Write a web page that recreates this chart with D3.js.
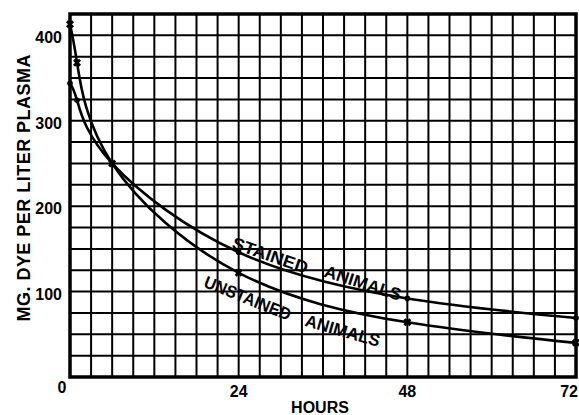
<!DOCTYPE html>
<html><head><meta charset="utf-8">
<script src="https://cdn.jsdelivr.net/npm/d3@7"></script>
<style>
html,body{margin:0;padding:0;background:#fff;overflow:hidden;}
text{font-family:"Liberation Sans","DejaVu Sans",sans-serif;font-weight:bold;fill:#000;}
</style></head>
<body><svg id="c" width="579" height="415"></svg>
<script>
// Data (hours, mg dye per liter plasma)
const hours = [0, 1, 6, 24, 48, 72];
const stained = [344, 324, 250, 146, 92, 69];
const unstained = [413, 368, 250, 122, 64, 40];
const xTicks = [0, 24, 48, 72];
const yTicks = [100, 200, 300, 400];
const xLabel = "HOURS";
const yLabel = "MG. DYE PER LITER PLASMA";
const curveLabels = [
  {text: "STAINED", h: 22.9, v: 151, angle: 19, len: 79},
  {text: "ANIMALS", h: 36.0, v: 118, angle: 18, len: 80},
  {text: "UNSTAINED", h: 18.9, v: 106, angle: 22, len: 92},
  {text: "ANIMALS", h: 33.3, v: 60, angle: 16, len: 77}
];

const svg = d3.select("#c");
const x = d3.scaleLinear().domain([0, 72]).range([70, 576]);
const y = d3.scaleLinear().domain([0, 425]).range([377, 14]);

// grid
const g = svg.append("g");
g.selectAll("line.v").data(d3.range(0, 73, 3)).join("line")
  .attr("x1", d => x(d)).attr("x2", d => x(d))
  .attr("y1", y(0)).attr("y2", y(425))
  .attr("stroke", "#000").attr("stroke-width", 2);
g.selectAll("line.h").data(d3.range(0, 426, 25)).join("line")
  .attr("y1", d => y(d)).attr("y2", d => y(d))
  .attr("x1", x(0)).attr("x2", x(72))
  .attr("stroke", "#000").attr("stroke-width", 2);
// border
g.append("rect").attr("x", x(0)).attr("y", y(425))
  .attr("width", x(72) - x(0)).attr("height", y(0) - y(425))
  .attr("fill", "none").attr("stroke", "#000").attr("stroke-width", 3.5);

// curves
const line = d3.line().x(d => x(d[0])).y(d => y(d[1])).curve(d3.curveNatural);
const sData = hours.map((h, i) => [h, stained[i]]);
const uData = hours.map((h, i) => [h, unstained[i]]);
[sData, uData].forEach(d => {
  svg.append("path").datum(d).attr("d", line)
    .attr("fill", "none").attr("stroke", "#000").attr("stroke-width", 2.6);
});
// markers
svg.selectAll("circle.s").data(sData).join("circle")
  .attr("cx", d => x(d[0])).attr("cy", d => y(d[1])).attr("r", 2.8).attr("fill", "#000");
const cross = d3.symbol().type(d3.symbolCross).size(40);
svg.selectAll("path.u").data(uData).join("path")
  .attr("d", cross)
  .attr("transform", d => `translate(${x(d[0])},${y(d[1])}) rotate(45)`)
  .attr("fill", "#000");

// tick labels
svg.selectAll("text.yt").data(yTicks).join("text")
  .attr("x", 62).attr("y", d => y(d) + 8)
  .attr("text-anchor", "end").attr("font-size", 16).text(d => d);
svg.selectAll("text.xt").data(xTicks).join("text")
  .attr("x", d => d === 0 ? x(d) - 8 : (d === 72 ? 578 : x(d)))
  .attr("y", d => d === 0 ? 393 : 397)
  .attr("text-anchor", d => d === 72 ? "end" : "middle")
  .attr("font-size", 16).text(d => d);

// axis titles
svg.append("text").attr("x", 320).attr("y", 413)
  .attr("text-anchor", "middle").attr("font-size", 16).text(xLabel);
svg.append("text").attr("transform", "translate(30,188) rotate(-90)")
  .attr("text-anchor", "middle").attr("font-size", 18)
  .attr("textLength", 267).attr("lengthAdjust", "spacing").text(yLabel);

// curve labels
svg.selectAll("text.cl").data(curveLabels).join("text")
  .attr("transform", d => `translate(${x(d.h)},${y(d.v)}) rotate(${d.angle})`)
  .attr("font-size", 17).attr("textLength", d => d.len).attr("lengthAdjust", "spacingAndGlyphs")
  .text(d => d.text);
</script></body></html>
